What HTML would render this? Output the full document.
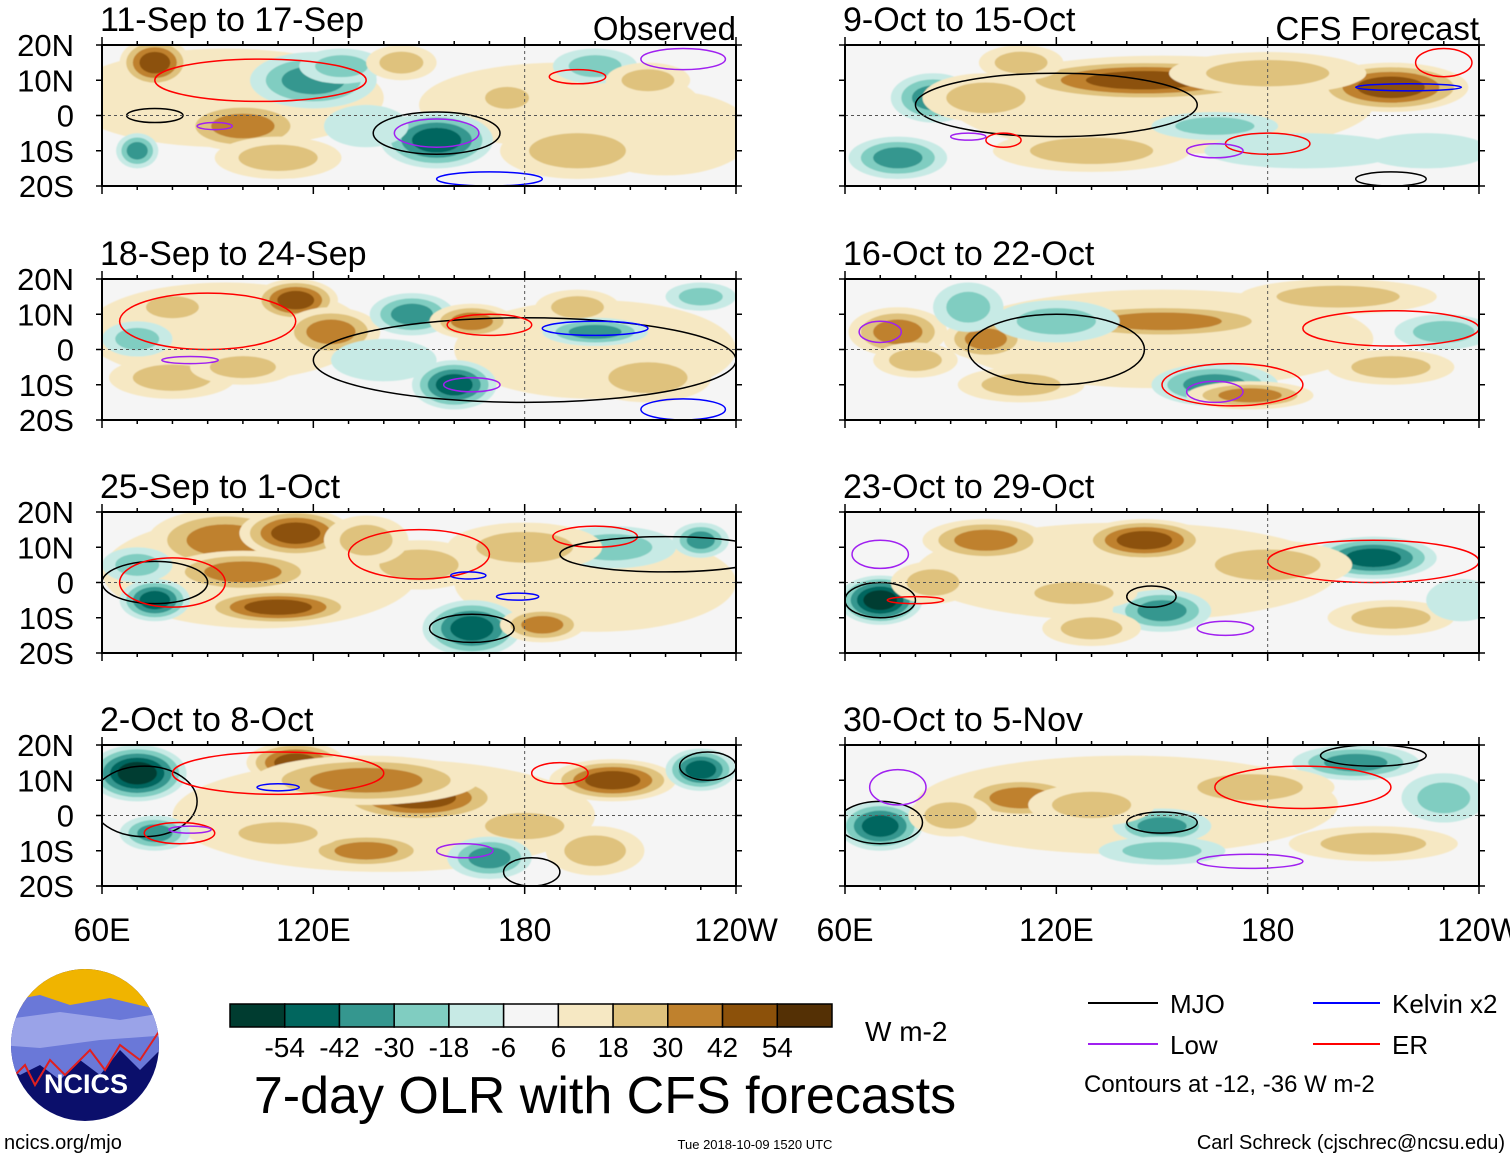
<!DOCTYPE html>
<html><head><meta charset="utf-8">
<style>
html,body{margin:0;padding:0;background:#fff;}
body{width:1510px;height:1159px;overflow:hidden;position:relative;font-family:"Liberation Sans",sans-serif;}
svg text{font-family:"Liberation Sans",sans-serif;}
</style></head>
<body>
<svg id="chart" width="1510" height="1159" viewBox="0 0 1510 1159" xmlns="http://www.w3.org/2000/svg">
<defs><filter id="soft" x="-20%" y="-20%" width="140%" height="140%"><feGaussianBlur stdDeviation="0.6"/></filter>
<clipPath id="clipL"><rect x="0" y="0" width="634" height="141"/></clipPath></defs>
<g id="panels"></g>
<g id="footer">
 <g>
  <clipPath id="logoclip"><ellipse cx="85" cy="1045" rx="74" ry="76"/></clipPath>
  <g clip-path="url(#logoclip)">
   <rect x="0" y="960" width="170" height="170" fill="#0b0f6b"/>
   <rect x="0" y="960" width="170" height="50" fill="#f0b400"/>
   <path d="M0 1002 L40 995 L70 1005 L110 998 L160 1010 L170 1010 L170 1040 L140 1070 L120 1050 L100 1075 L80 1060 L60 1080 L40 1065 L20 1075 L0 1060 Z" fill="#6a78d8"/>
   <path d="M0 1020 L60 1012 L120 1020 L170 1012 L170 1035 L100 1040 L40 1048 L0 1045 Z" fill="#9aa3e8"/>
   <path d="M10 1080 L25 1065 L35 1085 L50 1060 L65 1075 L90 1050 L105 1070 L120 1045 L140 1060 L160 1030" fill="none" stroke="#e02020" stroke-width="2"/>
  </g>
  <text x="86" y="1093" text-anchor="middle" font-size="27" font-weight="bold" fill="#fff">NCICS</text>
 </g>
 <text x="4" y="1149" font-size="20">ncics.org/mjo</text>
 <g id="colorbar"></g>
 <text x="865" y="1041" font-size="28">W m-2</text>
 <text x="605" y="1113" text-anchor="middle" font-size="52">7-day OLR with CFS forecasts</text>
 <text x="755" y="1149" text-anchor="middle" font-size="13">Tue 2018-10-09 1520 UTC</text>
 <text x="1505" y="1149" text-anchor="end" font-size="20">Carl Schreck (cjschrec@ncsu.edu)</text>
 <g>
  <g><line x1="1088" y1="1003" x2="1158" y2="1003" stroke="#000" stroke-width="2"/><text x="1170" y="1013" font-size="26">MJO</text></g>
  <g><line x1="1313" y1="1003" x2="1380" y2="1003" stroke="#0000ff" stroke-width="2"/><text x="1392" y="1013" font-size="26">Kelvin x2</text></g>
  <g><line x1="1088" y1="1044" x2="1158" y2="1044" stroke="#a020f0" stroke-width="2"/><text x="1170" y="1054" font-size="26">Low</text></g>
  <g><line x1="1313" y1="1044" x2="1380" y2="1044" stroke="#ff0000" stroke-width="2"/><text x="1392" y="1054" font-size="26">ER</text></g>
  <text x="1084" y="1092" font-size="24">Contours at -12, -36 W m-2</text>
 </g>
</g>
</svg>
<script>
const levels = [-54,-42,-30,-18,-6,6,18,30,42,54];
const colors = ["#003c30","#01665e","#35978f","#80cdc1","#c7eae5","#f5f5f5","#f6e8c3","#dfc27d","#bf812d","#8c510a","#543005"];
const panelTitles = ["11-Sep to 17-Sep","18-Sep to 24-Sep","25-Sep to 1-Oct","2-Oct to 8-Oct","9-Oct to 15-Oct","16-Oct to 22-Oct","23-Oct to 29-Oct","30-Oct to 5-Nov"];
const latTicks = ["20N","10N","0","10S","20S"];
const lonTicks = ["60E","120E","180","120W"];
// blobs per panel: [lon, lat, value, lonHalfWidth, latHalfHeight]
const blobs0 = [[95,5,12,45,14],[190,3,10,40,12],[220,-5,10,25,12],[75,15,45,10,7],[100,-3,30,18,7],[120,10,-35,18,8],[128,14,-25,12,5],[155,-7,-45,16,8],[70,-10,-35,6,5],[200,14,-30,12,5],[175,5,20,10,5],[215,10,28,12,5],[145,15,28,10,5],[195,-10,20,22,8],[110,-12,20,18,6],[135,-3,-15,12,6]];
const blobs1 = [[95,5,14,40,14],[200,0,10,40,14],[115,14,45,12,6],[125,5,32,14,7],[80,12,25,12,5],[148,10,-35,12,6],[140,-3,-15,15,6],[165,8,32,12,5],[160,-10,-50,12,7],[80,-8,22,18,6],[195,12,28,12,5],[200,5,-32,15,4],[215,-8,22,18,7],[230,15,-28,10,4],[70,3,-25,10,5],[100,-5,25,15,5]];
const blobs2 = [[105,3,14,45,16],[200,0,10,40,14],[95,12,40,22,9],[115,14,50,16,7],[100,3,32,22,6],[110,-7,42,22,5],[75,-5,-48,10,6],[165,-13,-52,14,8],[150,5,20,18,7],[185,-12,32,12,5],[205,10,-25,18,6],[135,12,28,12,7],[180,10,20,22,7],[230,12,-32,8,5],[70,5,-25,10,5]];
const blobs3 = [[140,0,12,60,16],[70,12,-55,14,8],[75,-5,-42,10,5],[115,15,45,14,6],[150,5,48,24,7],[205,10,52,18,6],[135,10,32,32,7],[180,-3,22,18,6],[135,-10,32,18,5],[170,-12,-32,12,6],[230,13,-45,10,6],[110,-5,28,18,5],[200,-10,20,14,7]];
const blobs4 = [[150,3,12,60,14],[145,10,48,38,6],[215,8,52,22,7],[85,5,-42,12,7],[75,-12,-42,14,6],[165,-3,-22,18,4],[100,5,28,18,7],[180,12,28,28,6],[190,-10,-18,28,5],[130,-10,20,28,6],[225,-10,-15,18,5],[110,15,28,12,5]];
const blobs5 = [[150,3,10,60,14],[150,8,38,34,5],[75,5,32,14,7],[80,-3,28,12,5],[100,3,32,12,6],[120,8,-28,18,6],[165,-10,-42,18,6],[175,-13,32,18,4],[230,5,-28,14,5],[200,15,25,28,5],[215,-5,20,18,5],[110,-10,20,18,5],[95,12,-20,10,7]];
const blobs6 = [[140,3,10,60,14],[70,-5,-56,12,7],[100,12,32,18,6],[145,12,42,18,6],[210,7,-46,18,6],[150,-8,-42,14,6],[125,-3,28,18,5],[180,5,20,24,7],[215,-10,20,18,5],[85,0,20,12,6],[130,-13,20,14,5],[235,-5,-18,10,6]];
const blobs7 = [[140,3,10,60,14],[70,-3,-48,12,7],[205,15,-42,18,5],[110,5,32,18,6],[150,-3,-42,14,5],[130,3,28,18,6],[175,8,20,24,6],[150,-10,-22,18,4],[210,-8,20,24,5],[90,0,20,12,6],[230,5,-22,12,7]];
const panelBlobs = [blobs0,blobs1,blobs2,blobs3,blobs4,blobs5,blobs6,blobs7];
// contours per panel: [type, lon, lat, lonHalf, latHalf]
const contours = [
 [["er",105,10,30,6],["mjo",75,0,8,2],["low",92,-3,5,1],["low",155,-5,12,4],["mjo",155,-5,18,6],["kelvin",170,-18,15,2],["er",195,11,8,2],["low",225,16,12,3]],
 [["mjo",180,-3,60,12],["er",90,8,25,8],["low",85,-3,8,1],["er",170,7,12,3],["kelvin",200,6,15,2],["low",165,-10,8,2],["kelvin",225,-17,12,3]],
 [["er",150,8,20,7],["mjo",75,0,15,6],["er",80,0,15,7],["kelvin",164,2,5,1],["mjo",165,-13,12,4],["er",200,13,12,3],["mjo",220,8,30,5],["kelvin",178,-4,6,1]],
 [["mjo",72,4,15,10],["er",110,12,30,6],["er",82,-5,10,3],["low",85,-4,6,1],["kelvin",110,8,6,1],["low",163,-10,8,2],["mjo",182,-16,8,4],["er",190,12,8,3],["mjo",232,14,8,4]],
 [["mjo",120,3,40,9],["er",230,15,8,4],["kelvin",220,8,15,1],["low",95,-6,5,1],["er",105,-7,5,2],["er",180,-8,12,3],["low",165,-10,8,2],["mjo",215,-18,10,2]],
 [["mjo",120,0,25,10],["low",70,5,6,3],["er",215,6,25,5],["er",170,-10,20,6],["low",165,-12,8,3]],
 [["er",210,6,30,6],["low",70,8,8,4],["mjo",70,-5,10,5],["mjo",147,-4,7,3],["low",168,-13,8,2],["er",80,-5,8,1]],
 [["mjo",70,-2,12,6],["low",75,8,8,5],["er",190,8,25,6],["mjo",150,-2,10,3],["low",175,-13,15,2],["mjo",210,17,15,3]]
];
const ctColor = {mjo:"#000",er:"#ff0000",low:"#a020f0",kelvin:"#0000ff"};
const NS="http://www.w3.org/2000/svg";
function mk(tag, attrs, parent){const e=document.createElementNS(NS,tag);for(const k in attrs)e.setAttribute(k,attrs[k]);parent.appendChild(e);return e;}
function binIndex(v){let i=0;while(i<levels.length && v>=levels[i])i++;return i;}
const PW=634, PH=141;
const lonScale = lon => (lon-60)/180*PW;
const latScale = lat => (20-lat)/40*PH;
const panelsG=document.getElementById('panels');
const panelX=[102,845], panelY=[45,279,512,745];
panelTitles.forEach((title,p)=>{
  const col=p<4?0:1, row=p%4;
  const x0=panelX[col], y0=panelY[row];
  const g=mk('g',{transform:`translate(${x0},${y0})`},panelsG);
  
  
  const inner=mk('g',{'clip-path':'url(#clipL)'},g);
  mk('rect',{x:0,y:0,width:PW,height:PH,fill:colors[5]},inner);
  const fg=mk('g',{filter:'url(#soft)'},inner);
  panelBlobs[p].forEach(b=>{
    const [lon,lat,v,hw,hh]=b;
    const target=binIndex(v);
    const steps=[];
    if(target>5){for(let i=6;i<=target;i++)steps.push(i);} else if(target<5){for(let i=4;i>=target;i--)steps.push(i);}
    const n=steps.length;
    steps.forEach((ci,k)=>{
      const f=1-0.75*k/n;
      const e=mk('ellipse',{cx:lonScale(lon),cy:latScale(lat),rx:hw/180*PW*f,ry:hh/40*PH*f,fill:colors[ci]},fg);
      
      
    });
  });
  contours[p].forEach(c=>{
    const [t,lon,lat,hw,hh]=c;
    const e=mk('ellipse',{cx:lonScale(lon),cy:latScale(lat),rx:hw/180*PW,ry:hh/40*PH,fill:'none',stroke:ctColor[t],'stroke-width':1.5},inner);
    
    
  });
  mk('line',{x1:0,y1:latScale(0),x2:PW,y2:latScale(0),stroke:'#555','stroke-dasharray':'3,3','stroke-width':1},inner);
  mk('line',{x1:lonScale(180),y1:0,x2:lonScale(180),y2:PH,stroke:'#555','stroke-dasharray':'3,3','stroke-width':1},inner);
  mk('rect',{x:0,y:0,width:PW,height:PH,fill:'none',stroke:'#000','stroke-width':2},g);
  for(let lon=60;lon<=240;lon+=10){
    const len=(lon%60===0)?8:4;
    const xx=lonScale(lon);
    mk('line',{x1:xx,y1:0,x2:xx,y2:-len,stroke:'#000','stroke-width':1.5},g);
    mk('line',{x1:xx,y1:PH,x2:xx,y2:PH+len,stroke:'#000','stroke-width':1.5},g);
  }
  for(let lat=-20;lat<=20;lat+=10){
    const yy=latScale(lat);
    mk('line',{x1:0,y1:yy,x2:-6,y2:yy,stroke:'#000','stroke-width':1.5},g);
    mk('line',{x1:PW,y1:yy,x2:PW+6,y2:yy,stroke:'#000','stroke-width':1.5},g);
  }
  const tt=mk('text',{x:-2,y:-14,'font-size':34},g);tt.textContent=title;
  
  
  if(p===0||p===4){
    const lab=mk('text',{x:PW,y:-5,'text-anchor':'end','font-size':33},g);lab.textContent=p===0?"Observed":"CFS Forecast";
    
    
  }
  if(col===0){
    latTicks.forEach((t,i)=>{
      const tx=mk('text',{x:-28,y:i*PH/4+11,'text-anchor':'end','font-size':31},g);tx.textContent=t;
      
      
    });
  }
  if(row===3){
    lonTicks.forEach((t,i)=>{
      const tx=mk('text',{x:i*PW/3,y:PH+55,'text-anchor':'middle','font-size':32},g);tx.textContent=t;
      
      
    });
  }
});
const cb=document.getElementById('colorbar');
const cbX=230, cbW=602/11;
colors.forEach((c,i)=>{
  const r=mk('rect',{x:cbX+i*cbW,y:1004,width:cbW,height:23,fill:c,stroke:'#000','stroke-width':1.5},cb);
  
  
});
levels.forEach((l,i)=>{
  const t=mk('text',{x:cbX+(i+1)*cbW,y:1057,'text-anchor':'middle','font-size':28},cb);t.textContent=l;
  
  
});
</script>
</body></html>
